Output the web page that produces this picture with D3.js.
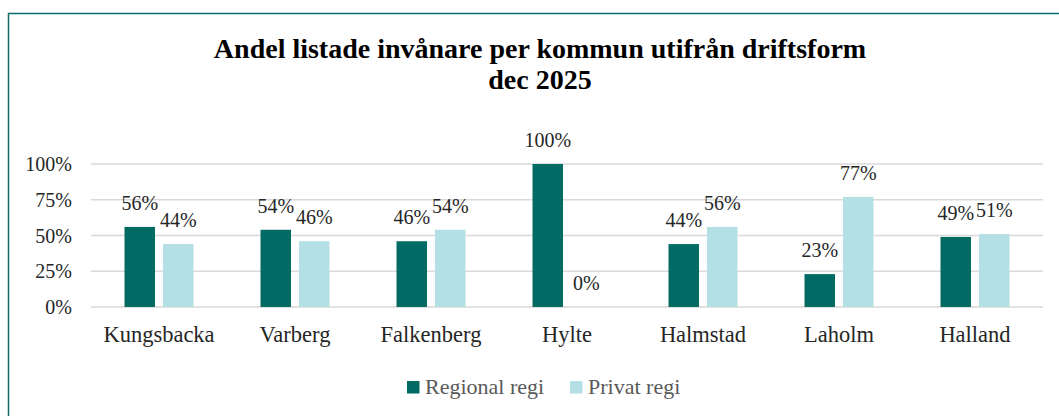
<!DOCTYPE html>
<html>
<head>
<meta charset="utf-8">
<script src="https://cdn.jsdelivr.net/npm/d3@7"></script>
<style>
  body { margin: 0; background: #fff; }
  svg text { font-family: "Liberation Serif", "Times New Roman", serif; }
</style>
</head>
<body>
<div id="chart"></div>
<script>
const kommuner = ["Kungsbacka", "Varberg", "Falkenberg", "Hylte", "Halmstad", "Laholm", "Halland"];
const regionalRegi = [56, 54, 46, 100, 44, 23, 49];
const privatRegi = [44, 46, 54, 0, 56, 77, 51];
const serier = ["Regional regi", "Privat regi"];
const yTicks = [0, 25, 50, 75, 100];

const width = 1059, height = 416;
const margin = { top: 164, right: 16, bottom: 109, left: 91 };
const colors = ["#006a65", "#b3dfe5"];

const svg = d3.select("#chart").append("svg")
    .attr("width", width)
    .attr("height", height);

// frame
svg.append("rect")
    .attr("x", 8.5).attr("y", 13.5)
    .attr("width", width).attr("height", height)
    .attr("fill", "none")
    .attr("stroke", "#0f6e6a")
    .attr("stroke-width", 1.5);

// title
const title = ["Andel listade invånare per kommun utifrån driftsform", "dec 2025"];
svg.selectAll(".title")
    .data(title)
    .enter().append("text")
    .attr("class", "title")
    .attr("x", 540)
    .attr("y", (d, i) => 58 + i * 31)
    .attr("text-anchor", "middle")
    .style("font-size", "28px").style("font-weight", "bold")
    .attr("fill", "#000")
    .text(d => d);

const x = d3.scaleBand()
    .domain(kommuner)
    .range([margin.left, width - margin.right]);

const y = d3.scaleLinear()
    .domain([0, 100])
    .range([height - margin.bottom, margin.top]);

// grid
svg.append("g")
    .selectAll("line")
    .data(yTicks)
    .enter().append("line")
    .attr("x1", margin.left).attr("x2", width - margin.right)
    .attr("y1", d => y(d)).attr("y2", d => y(d))
    .attr("stroke", "#d9d9d9")
    .attr("stroke-width", 1.5);

// y axis labels
svg.append("g")
    .selectAll("text")
    .data(yTicks)
    .enter().append("text")
    .attr("x", margin.left - 19)
    .attr("y", d => y(d) + 7)
    .attr("text-anchor", "end")
    .style("font-size", "20px")
    .attr("fill", "#262626")
    .text(d => d + "%");

// x axis labels
svg.append("g")
    .selectAll("text")
    .data(kommuner)
    .enter().append("text")
    .attr("x", d => x(d) + x.bandwidth() / 2)
    .attr("y", y(0) + 35)
    .attr("text-anchor", "middle")
    .style("font-size", "22.5px")
    .attr("fill", "#262626")
    .text(d => d);

const barW = 30.5, gap = 8;
const series = [regionalRegi, privatRegi];

series.forEach((vals, si) => {
    const offset = si === 0 ? -gap / 2 - barW : gap / 2;
    const bx = i => x(kommuner[i]) + x.bandwidth() / 2 + offset;

    svg.append("g")
        .selectAll("rect")
        .data(vals)
        .enter().append("rect")
        .attr("x", (d, i) => bx(i))
        .attr("y", d => y(d))
        .attr("width", barW)
        .attr("height", d => y(0) - y(d))
        .attr("fill", colors[si]);

    svg.append("g")
        .selectAll("text")
        .data(vals)
        .enter().append("text")
        .attr("x", (d, i) => bx(i) + barW / 2)
        .attr("y", d => y(d) - 17)
        .attr("text-anchor", "middle")
        .style("font-size", "20px")
        .attr("fill", "#262626")
        .text(d => d + "%");
});

// legend
const legendX = [407, 570];
svg.append("g")
    .selectAll("rect")
    .data(serier)
    .enter().append("rect")
    .attr("x", (d, i) => legendX[i])
    .attr("y", 381)
    .attr("width", 12.5).attr("height", 12.5)
    .attr("fill", (d, i) => colors[i]);
svg.append("g")
    .selectAll("text")
    .data(serier)
    .enter().append("text")
    .attr("x", (d, i) => legendX[i] + 18)
    .attr("y", 393.5)
    .style("font-size", "22px")
    .attr("fill", "#595959")
    .text(d => d);
</script>
</body>
</html>
